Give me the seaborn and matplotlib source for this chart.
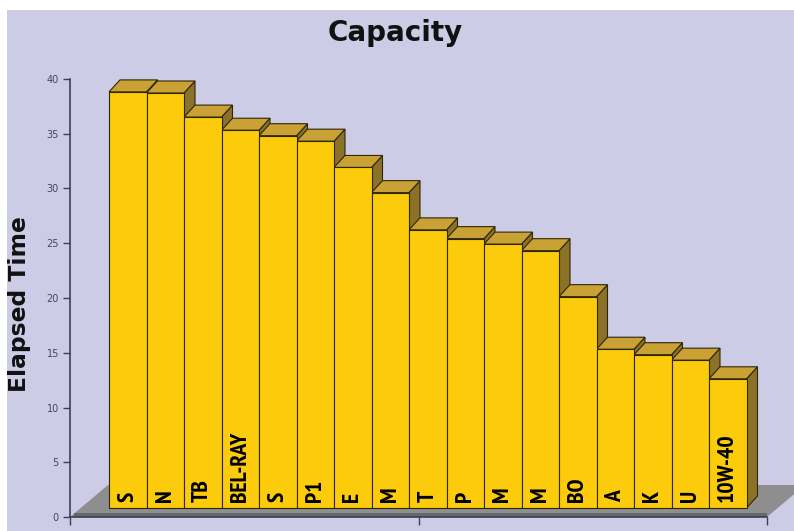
import matplotlib
matplotlib.use("Agg")
import matplotlib.pyplot as plt
import matplotlib.transforms as mtransforms
from matplotlib import font_manager
from matplotlib.patches import Polygon, Rectangle
import pandas as pd
import seaborn as sns

# Motor-oil capacity test: elapsed time per product
brands = ["S", "N", "TB", "BEL-RAY", "S", "P1", "E", "M", "T",
          "P", "M", "M", "BO", "A", "K", "U", "10W-40"]
elapsed = [38.0, 37.9, 35.7, 34.5, 34.0, 33.5, 31.1, 28.8, 25.4,
           24.6, 24.1, 23.5, 19.3, 14.5, 14.0, 13.5, 11.8]
y_ticks = [0, 5, 10, 15, 20, 25, 30, 35, 40]

df = pd.DataFrame({"slot": range(len(brands)), "brand": brands, "elapsed": elapsed})

LAVENDER = "#CCCCE6"
FRONT = "#FCCB0C"
TOP = "#C9A134"
SIDE = "#8C7229"
EDGE = "#2E2708"
FLOOR = "#8E8E8E"
FLOOR_EDGE = "#676767"
AXIS = "#3E3E58"

sns.set_style("ticks")
plt.rcParams["font.family"] = ["DejaVu Sans"]


def narrow_bold_font():
    """Pick the narrowest bold sans face that is installed."""
    fonts = font_manager.fontManager.ttflist

    def is_bold(f):
        w = f.weight
        return (isinstance(w, int) and w >= 600) or str(w).lower() in ("bold", "heavy", "black")

    for f in fonts:
        if "narrow" in f.name.lower() and is_bold(f):
            return font_manager.FontProperties(fname=f.fname)
    for f in fonts:
        if "condensed" in (f.name.lower() + str(f.stretch).lower()) and is_bold(f):
            return font_manager.FontProperties(fname=f.fname)
    return font_manager.FontProperties(family="Liberation Sans", weight="bold")


label_font = narrow_bold_font()
label_font.set_size(17)

W, H, DPI = 794, 531, 100
fig = plt.figure(figsize=(W / DPI, H / DPI), dpi=DPI)
fig.patch.set_facecolor("white")
fig.add_artist(Rectangle((7 / W, 0), 1 - 7 / W, 1 - 10 / H,
                         transform=fig.transFigure, facecolor=LAVENDER,
                         edgecolor="none", zorder=-10))

# plot area in pixels: x 70..767, y(0)=517, y(40)=79
ax = fig.add_axes([70 / W, (H - 517) / H, 697 / W, 438 / H])
ax.set_facecolor("none")

sns.barplot(data=df, x="slot", y="elapsed", color=FRONT, saturation=1,
            width=1.0, edgecolor=EDGE, linewidth=0.8, ax=ax, zorder=3)

xmin = (70 - 127.75) / 37.5
xmax = (767 - 127.75) / 37.5
ax.set_xlim(xmin, xmax)
ax.set_ylim(0, 40)

# pixel -> data scale factors
px_x = 697 / (xmax - xmin)
px_y = 438 / 40.0

# bars stand slightly behind the front edge of the floor
shift = mtransforms.ScaledTranslation(0, 9 / DPI, fig.dpi_scale_trans)
bar_trans = ax.transData + shift
ddx, ddy = 11 / px_x, 12 / px_y

bars = list(ax.patches)
for p in bars:
    p.set_transform(bar_trans)

# floor slab
fdx, fdy = 38 / px_x, 32 / px_y
ax.add_patch(Polygon([(xmin, 0), (xmax, 0), (xmax + fdx, fdy), (xmin + fdx, fdy)],
                     closed=True, facecolor=FLOOR, edgecolor="none",
                     zorder=0.5, clip_on=False))
ax.add_patch(Rectangle((xmin + 4 / px_x, 0), xmax - xmin - 4 / px_x, 4.5 / px_y,
                       facecolor=FLOOR_EDGE, edgecolor="none", zorder=0.6,
                       clip_on=False))

# depth faces of each column
for p, name in zip(bars, brands):
    x0 = p.get_x()
    x1 = x0 + p.get_width()
    h = p.get_y() + p.get_height()
    ax.add_patch(Polygon([(x1, 0), (x1 + ddx, ddy), (x1 + ddx, h + ddy), (x1, h)],
                         closed=True, facecolor=SIDE, edgecolor=EDGE, lw=0.8,
                         zorder=1.5, transform=bar_trans, clip_on=False))
    ax.add_patch(Polygon([(x0, h), (x1, h), (x1 + ddx, h + ddy), (x0 + ddx, h + ddy)],
                         closed=True, facecolor=TOP, edgecolor=EDGE, lw=0.8,
                         zorder=2, transform=bar_trans, clip_on=False))
    ax.text((x0 + x1) / 2, 6 / px_y, name, rotation=90, ha="center", va="bottom",
            fontproperties=label_font, color="black",
            transform=bar_trans, zorder=4)

# axes styling
for side in ("top", "right"):
    ax.spines[side].set_visible(False)
for side in ("left", "bottom"):
    ax.spines[side].set_color(AXIS)
    ax.spines[side].set_linewidth(1.2)
ax.set_yticks(y_ticks)
ax.set_yticklabels([str(t) for t in y_ticks])
ax.tick_params(axis="y", length=5, width=1, color=AXIS, labelsize=7,
               labelcolor="#45455A", pad=3)
ax.set_xticks([xmin, (xmin + xmax) / 2, xmax])
ax.set_xticklabels([])
ax.tick_params(axis="x", length=6, width=1, color=AXIS)
ax.set_xlabel("")
ax.set_ylabel("")

fig.text(395 / W, (H - 41) / H, "Capacity", ha="center", va="baseline",
         fontsize=20, fontweight="bold", color="#111111")
fig.text(20 / W, (H - 304) / H, "Elapsed Time", rotation=90, ha="center",
         va="center", fontsize=16.8, fontweight="bold", color="#111111")

fig.savefig("out.png", dpi=DPI)
